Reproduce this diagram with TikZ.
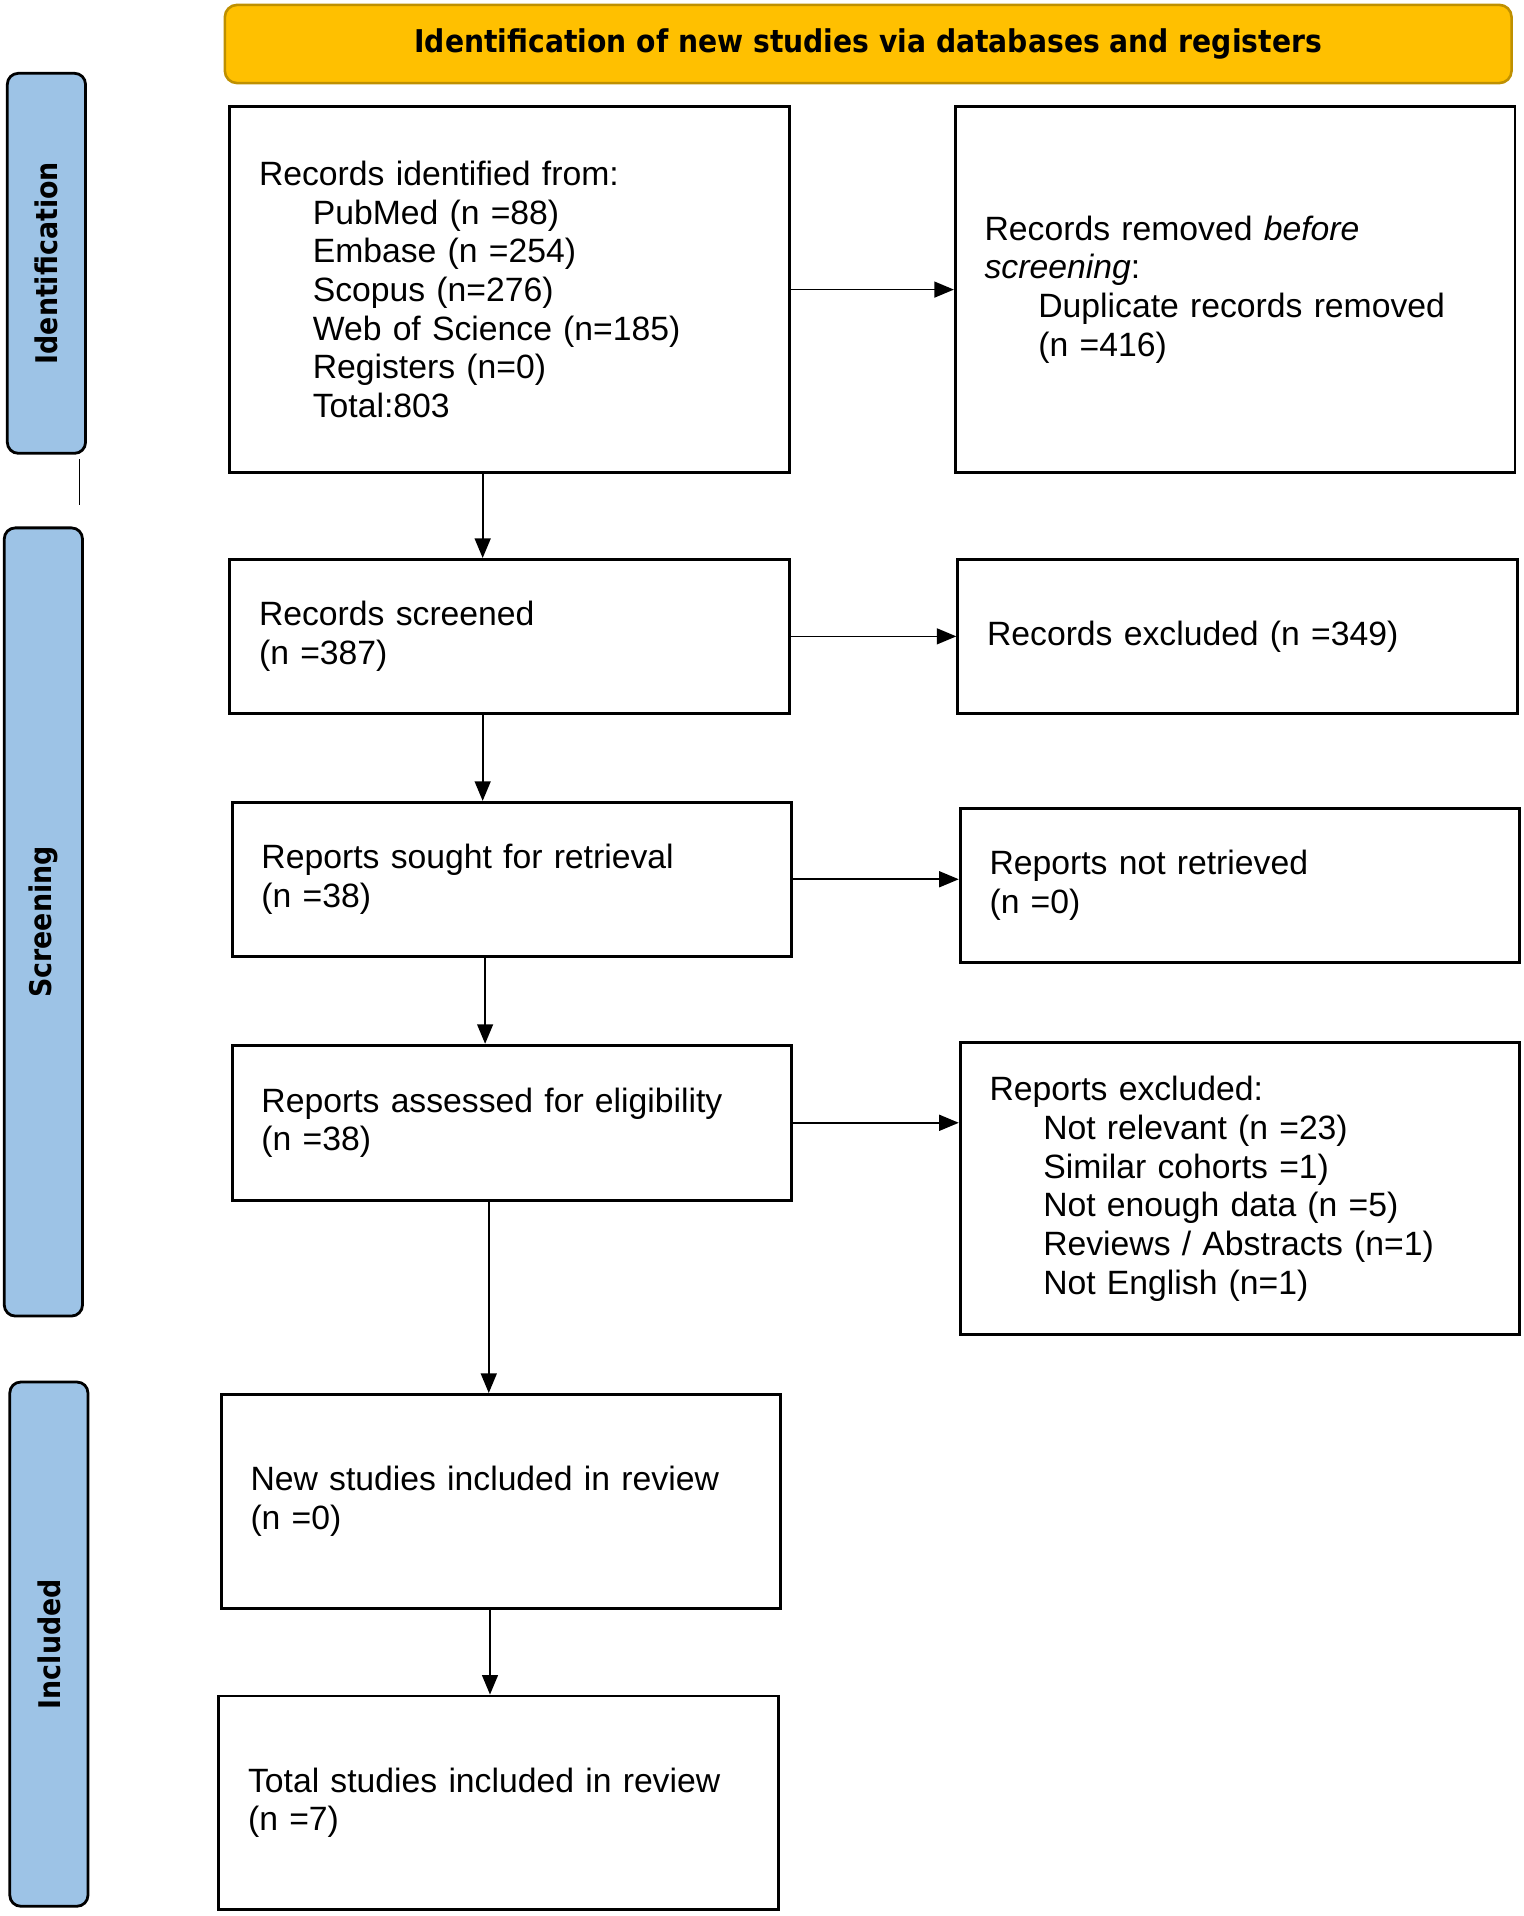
\documentclass[tikz,border=0pt]{standalone}
\usepackage{fontspec}
\setmainfont{Liberation Sans}
\newfontfamily\headfont[FakeStretch=0.9]{DejaVu Sans}
\usetikzlibrary{arrows.meta,positioning}
\definecolor{phaseblue}{HTML}{9DC3E6}
\definecolor{bannergold}{HTML}{FFC000}
\definecolor{bannerline}{HTML}{BF9000}

\begin{document}
\begin{tikzpicture}[>={Triangle[length=0.32cm,width=0.26cm]},node distance=1.4cm]
  \tikzstyle{flowbox}=[draw,line width=1.3pt,text width=8.2cm,inner xsep=0.48cm,inner ysep=0pt,align=left,font=\fontsize{15.7pt}{18pt}\selectfont]
  \tikzstyle{phasebar}=[draw,line width=1.3pt,rounded corners=0.18cm,fill=phaseblue,rotate=90,minimum height=1.28cm,font=\headfont\bfseries\fontsize{13.9pt}{16pt}\selectfont]
  \tikzstyle{flow}=[->,line width=0.8pt]
  \useasboundingbox (0,0) rectangle (24.94,-31.36);

  \node[draw=bannerline,fill=bannergold,line width=1.2pt,rounded corners=0.2cm,minimum width=21.06cm,minimum height=1.28cm,font=\headfont\bfseries\fontsize{14.6pt}{16pt}\selectfont] (title) at (14.21,-0.72) {Identification of new studies via databases and registers};

  % phases
  \node[phasebar,minimum width=6.22cm] (idbar) at (0.76,-4.31) {Identification};
  \draw[line width=0.8pt] (1.3,-7.52) -- (1.3,-8.26);
  \node[phasebar,minimum width=12.9cm] (scrbar) at (0.71,-15.09) {Screening};
  \node[phasebar,minimum width=8.58cm] (incbar) at (0.8,-26.91) {Included};

  % identification
  \node[flowbox,minimum height=6cm] (ident) at (8.34,-4.74) {Records identified from:\\
    \hspace*{0.88cm}PubMed (n =88)\\
    \hspace*{0.88cm}Embase (n =254)\\
    \hspace*{0.88cm}Scopus (n=276)\\
    \hspace*{0.88cm}Web of Science (n=185)\\
    \hspace*{0.88cm}Registers (n=0)\\
    \hspace*{0.88cm}Total:803};
  \node[flowbox,minimum height=6cm,right=2.67cm of ident] (removed) {Records removed \textit{before}\\
    \textit{screening}:\\
    \hspace*{0.88cm}Duplicate records removed\\
    \hspace*{0.88cm}(n =416)};

  % screening
  \node[flowbox,minimum height=2.52cm,below=1.37cm of ident] (screened) {Records screened\\(n =387)};
  \node[flowbox,minimum height=2.52cm,right=2.71cm of screened] (excluded) {Records excluded (n =349)};
  \node[flowbox,minimum height=2.52cm,below=1.41cm of screened,xshift=0.04cm] (sought) {Reports sought for retrieval\\(n =38)};
  \node[flowbox,minimum height=2.52cm,right=2.71cm of sought,yshift=-0.1cm] (notretr) {Reports not retrieved\\(n =0)};
  \node[flowbox,minimum height=2.54cm,below=1.41cm of sought] (assessed) {Reports assessed for eligibility\\(n =38)};
  \node[flowbox,minimum height=4.78cm,anchor=north west] (repexcl) at ([xshift=2.71cm,yshift=0.04cm]assessed.north east) {Reports excluded:\\
    \hspace*{0.88cm}Not relevant (n =23)\\
    \hspace*{0.88cm}Similar cohorts =1)\\
    \hspace*{0.88cm}Not enough data (n =5)\\
    \hspace*{0.88cm}Reviews / Abstracts (n=1)\\
    \hspace*{0.88cm}Not English (n=1)};

  % included
  \node[flowbox,minimum height=3.5cm,below=3.13cm of assessed,xshift=-0.18cm] (newstud) {New studies included in review\\(n =0)};
  \node[flowbox,minimum height=3.5cm,below=1.39cm of newstud,xshift=-0.04cm] (total) {Total studies included in review\\(n =7)};

  \draw[flow] ([xshift=-0.44cm]ident.south) -- ([xshift=-0.44cm]ident.south |- screened.north);
  \draw[flow] (ident.east) -- (removed.west);
  \draw[flow] ([xshift=-0.44cm]screened.south) -- ([xshift=-0.44cm]screened.south |- sought.north);
  \draw[flow] (screened.east) -- (excluded.west);
  \draw[flow] ([xshift=-0.44cm]sought.south) -- ([xshift=-0.44cm]sought.south |- assessed.north);
  \draw[flow] (sought.east) -- (sought.east -| notretr.west);
  \draw[flow] (assessed.east) -- (assessed.east -| repexcl.west);
  \draw[flow] ([xshift=-0.38cm]assessed.south) -- ([xshift=-0.38cm]assessed.south |- newstud.north);
  \draw[flow] ([xshift=-0.18cm]newstud.south) -- ([xshift=-0.18cm]newstud.south |- total.north);
\end{tikzpicture}
\end{document}
